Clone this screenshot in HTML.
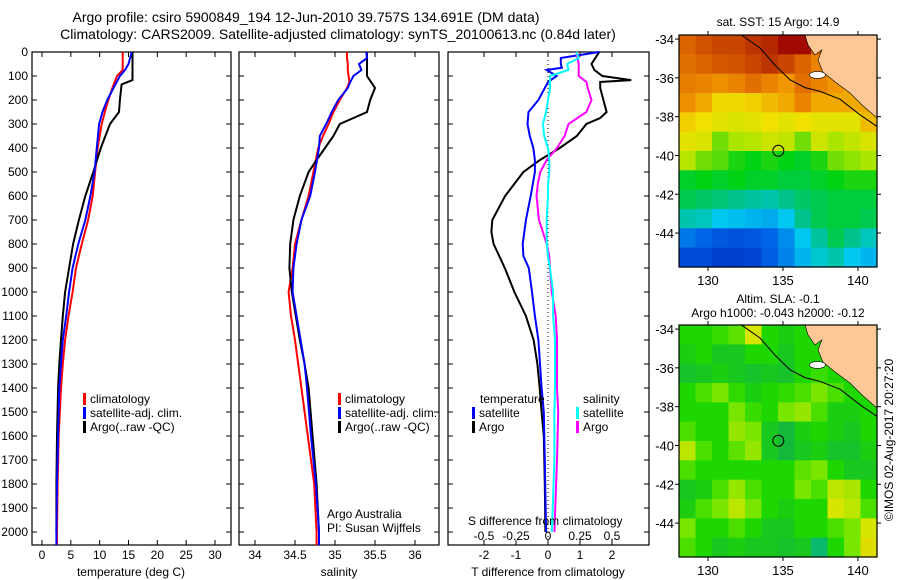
<!DOCTYPE html>
<html><head><meta charset="utf-8"><style>
html,body{margin:0;padding:0;background:#fff;}
svg{display:block;font-family:"Liberation Sans",sans-serif;}
</style></head><body>
<svg id="fig" width="900" height="580" viewBox="0 0 900 580">
<text x="306" y="22" font-size="14" text-anchor="middle">Argo profile: csiro 5900849_194 12-Jun-2010 39.757S 134.691E (DM data)</text>
<text x="338" y="39" font-size="14" text-anchor="middle">Climatology: CARS2009. Satellite-adjusted climatology: synTS_20100613.nc (0.84d later)</text>
<g id="g"></g>
</svg>
<script>
// ---- profile data ----
const depthT = [0,50,75,100,150,200,250,300,400,500,600,700,800,900,1000,1100,1200,1300,1400,1600,1800,2000,2054];
const tClim  = [14.0,14.0,14.0,13.0,12.2,11.5,10.9,10.35,9.65,9.2,8.8,8.0,6.9,5.9,5.3,4.6,4.0,3.6,3.3,2.9,2.7,2.6,2.6];
const tSat   = [15.55,15.0,14.4,13.5,12.4,11.3,10.5,9.9,9.5,9.1,8.4,7.5,6.3,5.3,4.7,4.2,3.6,3.3,3.0,2.8,2.6,2.5,2.5];
const depthArgoT = [0,50,100,117,135,200,250,300,400,500,600,700,800,900,1000,1100,1200,1300,1400,1600,1800,2000];
const tArgo  = [15.7,15.7,15.7,15.7,13.8,13.5,13.35,11.8,10.2,8.9,7.5,6.4,5.4,4.7,4.0,3.6,3.3,3.0,2.8,2.6,2.5,2.5];

const depthS = [0,25,50,75,100,125,150,200,250,300,350,400,500,600,700,800,900,1000,1100,1200,1300,1400,1600,1800,2000,2054];
const sClim = [35.15,35.15,35.16,35.16,35.17,35.18,35.15,35.06,34.98,34.92,34.85,34.79,34.73,34.67,34.58,34.5,34.47,34.42,34.45,34.5,34.54,34.58,34.66,34.74,34.77,34.77];
const sSat  = [35.39,35.4,35.3,35.33,35.23,35.19,35.16,35.04,34.96,34.89,34.81,34.8,34.75,34.69,34.58,34.52,34.48,34.47,34.52,34.57,34.62,34.65,34.7,34.76,34.8,34.8];
const depthArgoS = [0,100,150,200,250,300,350,400,450,500,600,700,800,900,1000,1100,1200,1300,1400,1600,1800,2000];
const sArgo = [35.4,35.4,35.5,35.44,35.4,35.06,34.98,34.875,34.77,34.67,34.56,34.48,34.44,34.43,34.46,34.51,34.56,34.62,34.67,34.72,34.77,34.8];

const depthDT = [0,50,75,100,117,125,150,200,250,275,300,350,400,450,500,600,700,750,800,900,1000,1100,1200,1300,1400,1500,1600,1800,2000];
const dTArgo = [1.6,1.36,1.45,1.7,2.6,1.63,1.63,1.73,1.83,1.63,1.2,0.9,0.37,-0.25,-0.77,-1.34,-1.74,-1.77,-1.7,-1.35,-1.05,-0.69,-0.45,-0.33,-0.26,-0.2,-0.13,-0.1,-0.08];
const depthDTs = [0,25,50,66,75,100,125,150,200,250,300,350,400,450,500,600,700,800,850,900,1000,1100,1200,1400,1500,1700,2000];
const dTSat = [1.6,0.4,0.4,0.43,-0.04,0.27,0.0,-0.1,-0.3,-0.61,-0.64,-0.57,-0.46,-0.41,-0.41,-0.54,-0.69,-0.79,-0.77,-0.6,-0.5,-0.41,-0.3,-0.2,-0.13,-0.1,-0.06];
const depthDS = [0,25,50,75,100,125,150,200,250,300,350,400,450,500,550,600,700,750,800,850,900,1000,1100,1200,1400,1500,1700,2000];
const dSSat  = [0.22,0.24,0.15,0.16,0.016,0.016,0.016,0.0,-0.015,-0.04,-0.03,0.0,0.01,0.01,0.0,0.0,-0.01,-0.01,-0.01,0.0,0.016,0.04,0.04,0.055,0.055,0.05,0.05,0.03];
const dSArgo = [0.22,0.23,0.24,0.24,0.24,0.30,0.31,0.34,0.30,0.16,0.13,0.07,-0.01,-0.06,-0.08,-0.09,-0.07,-0.04,-0.01,0.01,0.015,0.03,0.06,0.07,0.07,0.08,0.07,0.05];

// ---- map data ----
const sstGrid = [
[17,17.3,17.5,17.5,17.8,18,18.5,18.8,17,16.5,16,16],
[16.8,17,17.2,17.3,17.5,17.8,17.5,17,16.5,16,15.8,15.5],
[16.6,16.5,16.3,16.5,16.8,16.5,16.2,16.8,16.5,16.2,16,15.5],
[16.3,16,15.5,15.5,15.6,15.8,16,16.5,16,16,16,16],
[15.6,15.4,15.3,15.2,15.3,15.4,15.3,15.4,15.3,15.3,15.3,15.8],
[15.3,15.2,14.6,14.8,14.9,15.1,15.0,14.6,15.1,14.8,15,15.2],
[14.9,14.6,14.5,14.3,14.2,14.3,14.2,14.1,14.3,14.6,14.7,14.8],
[14.1,14.2,14.1,14.2,14.1,14.1,14.0,14.0,14.1,14.2,14.3,14.3],
[13.9,13.8,13.7,13.6,13.5,13.4,13.6,13.8,13.9,14,14,14],
[13.4,13.3,13.0,12.9,12.8,12.7,13.0,13.6,13.9,14,14,13.9],
[12.2,12,11.8,11.7,11.8,12,12.4,13,13.5,13.9,13.6,13.3],
[11.6,11.6,11.4,11.4,11.5,11.9,12.3,12.8,13.2,13.4,13,12.8]];
const slaGrid = [
[-0.05,-0.05,-0.02,0.02,0.15,-0.05,-0.08,-0.05,-0.05,-0.05,-0.05,-0.05],
[-0.08,-0.05,-0.1,-0.1,-0.05,-0.05,-0.1,-0.05,-0.05,-0.05,-0.05,-0.05],
[-0.12,-0.1,-0.08,-0.1,-0.12,-0.1,-0.12,-0.05,-0.02,-0.05,-0.05,-0.05],
[-0.05,0.0,0.05,-0.03,-0.08,-0.05,-0.03,0.0,0.05,0.0,-0.05,-0.05],
[-0.05,-0.05,-0.05,0.05,-0.02,-0.05,0.05,0.08,0.0,-0.08,-0.08,-0.05],
[0.0,-0.05,-0.05,0.08,0.05,-0.1,-0.15,-0.08,-0.05,-0.08,-0.1,-0.05],
[0.12,0.0,-0.05,0.02,0.08,-0.1,-0.15,-0.1,-0.08,-0.12,-0.12,-0.08],
[0.0,-0.05,-0.05,-0.05,-0.05,-0.05,-0.05,0.02,0.05,-0.05,-0.1,-0.1],
[-0.1,-0.08,0.0,0.08,0.0,-0.05,-0.05,0.05,0.0,0.12,0.1,-0.05],
[-0.08,0.0,0.05,0.12,0.05,-0.05,-0.08,-0.05,-0.05,0.15,0.12,0.0],
[0.05,-0.05,-0.05,0.0,-0.05,-0.1,-0.1,-0.05,-0.05,0.0,0.05,0.15],
[0.0,-0.05,-0.1,-0.08,-0.1,-0.1,-0.12,-0.1,-0.2,-0.05,0.05,0.18]];
const coastLon = [132.25,133.47,134.47,135.47,136.47,137.47,138.8,140.13,141.27];
const coastLat = [-33.8,-34.46,-35.34,-36.1,-36.5,-36.7,-37.1,-37.9,-38.5];
const landLon = [136.47,141.27,141.27,140.27,139.47,138.47,137.67,137.34,137.6,137.14,136.67];
const landLat = [-33.79,-33.79,-38.07,-37.4,-36.78,-36.21,-35.7,-35.08,-34.56,-34.82,-34.3];
const argoLon = 134.691, argoLat = -39.757;

const yTicks = [0,100,200,300,400,500,600,700,800,900,1000,1100,1200,1300,1400,1500,1600,1700,1800,1900,2000];
const tTicks = [0,5,10,15,20,25,30];
const sTicks = [34,34.5,35,35.5,36];
const dTTicks = [-2,-1,0,1,2];
const dSTicks = [-0.5,-0.25,0,0.25,0.5];
const lonTicks = [130,135,140];
const latTicks = [-34,-36,-38,-40,-42,-44];

const NS='http://www.w3.org/2000/svg';
const G=document.getElementById('g');
function el(tag,attrs,parent,txt){const e=document.createElementNS(NS,tag);for(const k in attrs)e.setAttribute(k,attrs[k]);if(txt!==undefined)e.textContent=txt;(parent||G).appendChild(e);return e;}

const Y0=52,Y1=545,DMAX=2054;
function yD(d){return Y0+(d/DMAX)*(Y1-Y0);}
function lin(a,b,p,q){return v=>p+(v-a)/(b-a)*(q-p);}

const panels=[
 {x0:32,x1:231,sc:lin(0,30,42,215)},
 {x0:239,x1:439,sc:lin(34,36,255,415)},
 {x0:448,x1:649,sc:lin(0,1,548,580)}];
const sSc=lin(0,1,548,676);

panels.forEach((p,i)=>{
  const f=el('rect',{x:p.x0,y:Y0,width:p.x1-p.x0,height:Y1-Y0,fill:'none',stroke:'#000','stroke-width':1.2});
  
  
  yTicks.forEach(d=>{
    const y=yD(d);
    const t1=el('line',{x1:p.x0,x2:p.x0+5,y1:y,y2:y,stroke:'#000'});
    
    
    const t2=el('line',{x1:p.x1,x2:p.x1-5,y1:y,y2:y,stroke:'#000'});
    
    
  });
});
yTicks.forEach(d=>{
  const t=el('text',{x:28,y:yD(d)+4,'font-size':12,'text-anchor':'end'},G,String(d));
  
  
});
function xTicks(p,ticks,sc,ly){
  ticks.forEach(v=>{
    const x=sc(v);
    const a=el('line',{x1:x,x2:x,y1:Y1,y2:Y1-5,stroke:'#000'});
    
    
    const b=el('line',{x1:x,x2:x,y1:Y0,y2:Y0+5,stroke:'#000'});
    
    
    if(ly){const t=el('text',{x:x,y:ly,'font-size':12,'text-anchor':'middle'},G,String(v));
    
    }
  });
}
xTicks(panels[0],tTicks,panels[0].sc,559);
xTicks(panels[1],sTicks,panels[1].sc,559);
xTicks(panels[2],dTTicks,panels[2].sc,559);
dSTicks.forEach(v=>{const t=el('text',{x:sSc(v),y:540,'font-size':12,'text-anchor':'middle'},G,String(v));
  
  });

const zl=el('line',{x1:548,x2:548,y1:Y0,y2:Y1,stroke:'#000','stroke-dasharray':'1,3'});



function series(depths,vals,sc,color,name,w){
  const pts=depths.map((d,i)=>sc(vals[i]).toFixed(1)+','+yD(d).toFixed(1)).join(' ');
  const l=el('polyline',{points:pts,fill:'none',stroke:color,'stroke-width':w||2,'stroke-linejoin':'miter'});
  
  
}
series(depthT,tClim,panels[0].sc,'#ff0000','temp-climatology-line');
series(depthArgoT,tArgo,panels[0].sc,'#000','temp-argo-line');
series(depthT,tSat,panels[0].sc,'#0000ff','temp-satellite-line');
series(depthS,sClim,panels[1].sc,'#ff0000','sal-climatology-line');
series(depthArgoS,sArgo,panels[1].sc,'#000','sal-argo-line');
series(depthS,sSat,panels[1].sc,'#0000ff','sal-satellite-line');
series(depthDT,dTArgo,panels[2].sc,'#000','tdiff-argo-line');
series(depthDTs,dTSat,panels[2].sc,'#0000ff','tdiff-satellite-line');
series(depthDS,dSArgo,sSc,'#ff00ff','sdiff-argo-line');
series(depthDS,dSSat,sSc,'#00ffff','sdiff-satellite-line');

function legend(x,y,color,label,name){
  const b=el('rect',{x:x,y:y-10,width:3,height:12,fill:color});
  
  
  const t=el('text',{x:x+7,y:y,'font-size':12},G,label);
  
  
}
legend(83,403,'#ff0000','climatology','legend-climatology');
legend(83,417,'#0000ff','satellite-adj. clim.','legend-satellite-adj');
legend(83,431,'#000','Argo(..raw -QC)','legend-argo');
legend(338,403,'#ff0000','climatology','legend-climatology-2');
legend(338,417,'#0000ff','satellite-adj. clim.','legend-satellite-adj-2');
legend(338,431,'#000','Argo(..raw -QC)','legend-argo-2');
legend(472,417,'#0000ff','satellite','legend-t-satellite');
legend(472,431,'#000','Argo','legend-t-argo');
legend(576,417,'#00ffff','satellite','legend-s-satellite');
legend(576,431,'#ff00ff','Argo','legend-s-argo');
[[480,403,'temperature','legend-temperature-heading'],[583,403,'salinity','legend-salinity-heading'],
 [327,518,'Argo Australia','argo-australia-note'],[327,532,'PI: Susan Wijffels','pi-note'],
 [468,525,'S difference from climatology','s-diff-axis-title']].forEach(a=>{
  const t=el('text',{x:a[0],y:a[1],'font-size':12},G,a[2]);
  
  
});
[[131,576,'temperature (deg C)','x-axis-title-temperature'],[339,576,'salinity','x-axis-title-salinity'],[548,576,'T difference from climatology','x-axis-title-tdiff']].forEach(a=>{
  const t=el('text',{x:a[0],y:a[1],'font-size':12,'text-anchor':'middle'},G,a[2]);
  
  
});

// ---- maps ----
const MX0=679,MX1=877,LON0=128.07,LON1=141.27,LAT0=-33.79,LAT1=-45.75;
function lonX(l){return MX0+(l-LON0)/(LON1-LON0)*(MX1-MX0);}
function mix(stops,v){
  if(v<=stops[0][0])return 'rgb('+stops[0][1].join(',')+')';
  for(let i=1;i<stops.length;i++){if(v<=stops[i][0]){const a=stops[i-1],b=stops[i],t=(v-a[0])/(b[0]-a[0]);
    return 'rgb('+a[1].map((c,k)=>Math.round(c+(b[1][k]-c)*t)).join(',')+')';}}
  return 'rgb('+stops[stops.length-1][1].join(',')+')';
}
function cm(stops){return v=>mix(stops,v);}
const sstCM=cm([[11,[0,40,190]],[12,[0,100,230]],[13,[0,200,240]],[13.6,[0,195,140]],[14.2,[0,210,20]],[14.8,[170,230,0]],[15.4,[240,225,0]],[16.2,[240,150,0]],[17,[220,100,0]],[18.5,[160,10,0]]]);
const slaCM=cm([[-0.25,[0,185,160]],[-0.15,[20,185,60]],[-0.05,[30,215,0]],[0.05,[120,230,0]],[0.15,[215,230,0]],[0.25,[240,200,0]]]);

function drawMap(top,grid,cmap,prefix,title1,title2){
  const MY0=top,MY1=top+232;
  const latY=l=>MY0+(LAT0-l)/(LAT0-LAT1)*(MY1-MY0);
  const rows=grid.length,cols=grid[0].length;
  const cw=(MX1-MX0)/cols,ch=(MY1-MY0)/rows;
  grid.forEach((row,r)=>row.forEach((v,c)=>{
    const cell=el('rect',{x:(MX0+c*cw).toFixed(2),y:(MY0+r*ch).toFixed(2),width:(cw+0.6).toFixed(2),height:(ch+0.6).toFixed(2),fill:cmap(v)});
    
    
  }));
  const land=el('polygon',{points:landLon.map((l,i)=>lonX(l).toFixed(1)+','+latY(landLat[i]).toFixed(1)).join(' '),fill:'#fdc896',stroke:'#000','stroke-width':0.6});
  
  
  const isl=el('ellipse',{cx:lonX(137.3),cy:latY(-35.85),rx:8,ry:3.5,fill:'#fff',stroke:'#000','stroke-width':0.6});
  
  
  const coast=el('polyline',{points:coastLon.map((l,i)=>lonX(l).toFixed(1)+','+latY(coastLat[i]).toFixed(1)).join(' '),fill:'none',stroke:'#000','stroke-width':1});
  
  
  const circ=el('circle',{cx:lonX(argoLon),cy:latY(argoLat),r:5.5,fill:'none',stroke:'#000','stroke-width':1});
  
  
  const fr=el('rect',{x:MX0,y:MY0,width:MX1-MX0,height:MY1-MY0,fill:'none',stroke:'#000','stroke-width':1.2});
  
  
  lonTicks.forEach(l=>{
    const x=lonX(l);
    const a=el('line',{x1:x,x2:x,y1:MY0,y2:MY0-4,stroke:'#000'});
    
    
    const b=el('line',{x1:x,x2:x,y1:MY1,y2:MY1+4,stroke:'#000'});
    
    
    const t=el('text',{x:x,y:MY1+18,'font-size':13,'text-anchor':'middle'},G,String(l));
    
    
  });
  latTicks.forEach(l=>{
    const y=latY(l);
    const a=el('line',{x1:MX0,x2:MX0-4,y1:y,y2:y,stroke:'#000'});
    
    
    const b=el('line',{x1:MX1,x2:MX1+4,y1:y,y2:y,stroke:'#000'});
    
    
    const t=el('text',{x:MX0-5,y:y+5,'font-size':13,'text-anchor':'end'},G,String(l));
    
    
  });
  const t1=el('text',{x:778,y:top-(title2?22:9),'font-size':12,'text-anchor':'middle'},G,title1);
  
  
  if(title2){const t2=el('text',{x:778,y:top-8,'font-size':12,'text-anchor':'middle'},G,title2);
  
  }
}
drawMap(35,sstGrid,sstCM,'sst-map','sat. SST: 15 Argo: 14.9');
drawMap(325,slaGrid,slaCM,'sla-map','Altim. SLA: -0.1','Argo h1000: -0.043 h2000: -0.12');
const cr=el('text',{x:0,y:0,'font-size':12,'text-anchor':'middle',transform:'translate(893,440) rotate(-90)'},G,'©IMOS 02-Aug-2017 20:27:20');


</script>
</body></html>
